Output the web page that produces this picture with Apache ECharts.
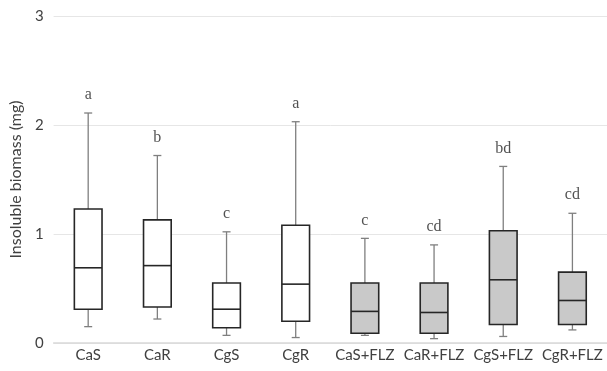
<!DOCTYPE html>
<html>
<head>
<meta charset="utf-8">
<script src="https://cdn.jsdelivr.net/npm/echarts@6/dist/echarts.min.js"></script>
<style>
  html, body { margin: 0; padding: 0; background: #fff; }
  #chart { width: 607px; height: 371px; }
</style>
</head>
<body>
<div id="chart"></div>
<script>
const categories = ['CaS', 'CaR', 'CgS', 'CgR', 'CaS+FLZ', 'CaR+FLZ', 'CgS+FLZ', 'CgR+FLZ'];
// [min, q1, median, q3, max]
const boxValues = [
  [0.15, 0.31, 0.69, 1.23, 2.11],
  [0.22, 0.33, 0.71, 1.13, 1.72],
  [0.07, 0.14, 0.31, 0.55, 1.02],
  [0.05, 0.20, 0.54, 1.08, 2.03],
  [0.07, 0.09, 0.29, 0.55, 0.96],
  [0.04, 0.09, 0.28, 0.55, 0.90],
  [0.06, 0.17, 0.58, 1.03, 1.62],
  [0.12, 0.17, 0.39, 0.65, 1.19]
];
const letters = ['a', 'b', 'c', 'a', 'c', 'cd', 'bd', 'cd'];
const fillColors = ['#ffffff', '#ffffff', '#ffffff', '#ffffff', '#c9c9c9', '#c9c9c9', '#c9c9c9', '#c9c9c9'];

const chart = echarts.init(document.getElementById('chart'));

function renderBox(params, api) {
  const idx = api.value(0);
  const lo = api.coord([idx, api.value(1)]);
  const q1 = api.coord([idx, api.value(2)]);
  const med = api.coord([idx, api.value(3)]);
  const q3 = api.coord([idx, api.value(4)]);
  const hi = api.coord([idx, api.value(5)]);
  const band = api.size([1, 0])[0];
  const boxW = band * 0.4;
  const capW = 8;
  const x = lo[0];
  const whisker = { stroke: '#7f7f7f', lineWidth: 1.3 };
  const edge = { stroke: '#262626', lineWidth: 1.6 };
  return {
    type: 'group',
    children: [
      { type: 'line', shape: { x1: x, y1: hi[1], x2: x, y2: q3[1] }, style: whisker },
      { type: 'line', shape: { x1: x, y1: q1[1], x2: x, y2: lo[1] }, style: whisker },
      { type: 'line', shape: { x1: x - capW / 2, y1: hi[1], x2: x + capW / 2, y2: hi[1] }, style: whisker },
      { type: 'line', shape: { x1: x - capW / 2, y1: lo[1], x2: x + capW / 2, y2: lo[1] }, style: whisker },
      {
        type: 'rect',
        shape: { x: x - boxW / 2, y: q3[1], width: boxW, height: q1[1] - q3[1] },
        style: Object.assign({ fill: fillColors[idx] }, edge)
      },
      { type: 'line', shape: { x1: x - boxW / 2, y1: med[1], x2: x + boxW / 2, y2: med[1] }, style: edge }
    ]
  };
}

const option = {
  animation: false,
  grid: { left: 50, right: -2, top: 16, bottom: 28 },
  xAxis: {
    type: 'category',
    data: categories,
    axisLine: { lineStyle: { color: '#d9d9d9', width: 1.5 } },
    axisTick: { show: false },
    axisLabel: { color: '#404040', fontFamily: 'Lato', fontSize: 15, margin: 5, interval: 0 }
  },
  yAxis: {
    type: 'value',
    min: 0,
    max: 3,
    interval: 1,
    name: 'Insoluble biomass (mg)',
    nameLocation: 'middle',
    nameGap: 26,
    nameTextStyle: { color: '#404040', fontFamily: 'Lato', fontSize: 16 },
    axisLine: { show: false },
    axisTick: { show: false },
    axisLabel: { color: '#404040', fontFamily: 'Lato', fontSize: 15, margin: 10 },
    splitLine: { lineStyle: { color: '#e6e6e6', width: 1 } }
  },
  series: [
    {
      type: 'custom',
      renderItem: renderBox,
      encode: { x: 0, y: [1, 2, 3, 4, 5] },
      data: boxValues.map((v, i) => [i].concat(v)),
      z: 2
    },
    {
      type: 'scatter',
      symbolSize: 0,
      data: boxValues.map((v, i) => [i, v[4]]),
      label: {
        show: true,
        position: 'top',
        distance: 10,
        color: '#262626',
        fontFamily: 'Liberation Serif',
        fontSize: 16,
        formatter: (p) => letters[p.dataIndex]
      },
      z: 3
    }
  ]
};

chart.setOption(option);
</script>
</body>
</html>
